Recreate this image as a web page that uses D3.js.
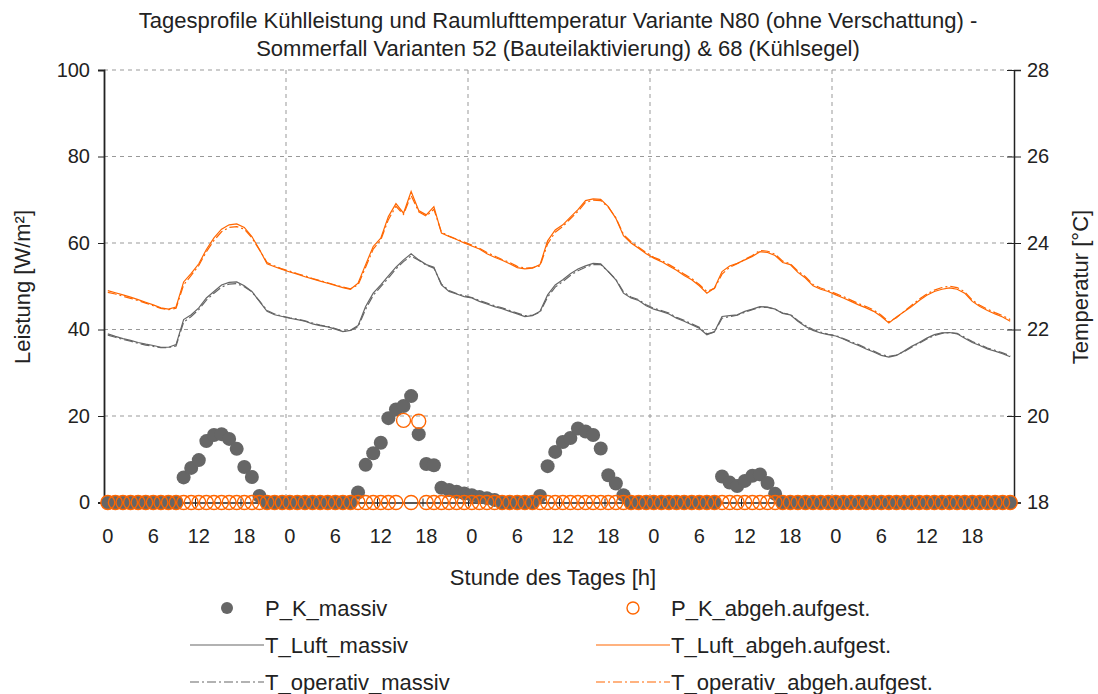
<!DOCTYPE html>
<html>
<head>
<meta charset="utf-8">
<script src="https://cdn.jsdelivr.net/npm/d3@7"></script>
<style>
  body { margin: 0; background: #fff; }
  svg { font-family: "Liberation Sans", Arial, sans-serif; }
  .axis path, .axis line { stroke: #222; }
  .axis text { font-size: 20px; fill: #222; }
</style>
</head>
<body>
<div id="chart"></div>
<script>
// ---------- data (hourly values, 5 days) ----------
const tickHours = ["0", "6", "12", "18"];
const nHours = 120;

// P_K massiv [W/m²]
const pkMassiv = [
  0, 0, 0, 0, 0, 0, 0, 0, 0, 0, 5.8, 8.0, 9.8, 14.2, 15.6, 15.8, 14.7, 12.4, 8.2, 5.9, 1.5, 0, 0, 0,
  0, 0, 0, 0, 0, 0, 0, 0, 0, 2.3, 8.7, 11.4, 13.8, 19.5, 21.5, 22.3, 24.6, 15.8, 8.9, 8.6, 3.4, 2.9, 2.5, 2.1,
  1.7, 1.3, 1.0, 0.6, 0, 0, 0, 0, 0, 1.5, 8.4, 11.7, 14.0, 14.9, 17.1, 16.4, 15.6, 12.5, 6.3, 4.4, 1.7, 0, 0, 0,
  0, 0, 0, 0, 0, 0, 0, 0, 0, 6.0, 4.6, 3.8, 5.0, 6.2, 6.5, 4.5, 2.0, 0, 0, 0, 0, 0, 0, 0,
  0, 0, 0, 0, 0, 0, 0, 0, 0, 0, 0, 0, 0, 0, 0, 0, 0, 0, 0, 0, 0, 0, 0, 0
];
// P_K abgehaengt/aufgestellt [W/m²]
const pkAbgeh = [
  0, 0, 0, 0, 0, 0, 0, 0, 0, 0, 0, 0, 0, 0, 0, 0, 0, 0, 0, 0, 0, 0, 0, 0,
  0, 0, 0, 0, 0, 0, 0, 0, 0, 0, 0, 0, 0, 0, 0, 19.0, 0, 18.8, 0, 0, 0, 0, 0, 0,
  0, 0, 0, 0, 0, 0, 0, 0, 0, 0, 0, 0, 0, 0, 0, 0, 0, 0, 0, 0, 0, 0, 0, 0,
  0, 0, 0, 0, 0, 0, 0, 0, 0, 0, 0, 0, 0, 0, 0, 0, 0, 0, 0, 0, 0, 0, 0, 0,
  0, 0, 0, 0, 0, 0, 0, 0, 0, 0, 0, 0, 0, 0, 0, 0, 0, 0, 0, 0, 0, 0, 0, 0
];
// temperatures [°C]
const tLuftMassiv = [
  21.90, 21.84, 21.79, 21.75, 21.70, 21.66, 21.63, 21.59, 21.59, 21.65, 22.23, 22.34, 22.50, 22.73, 22.88, 23.03, 23.09, 23.10, 23.01, 22.88, 22.65, 22.42, 22.34, 22.30,
  22.26, 22.23, 22.19, 22.13, 22.09, 22.06, 22.01, 21.95, 21.98, 22.09, 22.53, 22.84, 23.03, 23.24, 23.44, 23.61, 23.75, 23.61, 23.50, 23.44, 23.03, 22.88, 22.82, 22.76,
  22.73, 22.65, 22.59, 22.53, 22.48, 22.42, 22.36, 22.30, 22.32, 22.42, 22.80, 23.03, 23.15, 23.29, 23.40, 23.47, 23.53, 23.52, 23.34, 23.15, 22.84, 22.73, 22.67, 22.55,
  22.47, 22.42, 22.36, 22.26, 22.19, 22.11, 22.03, 21.88, 21.95, 22.30, 22.32, 22.34, 22.42, 22.47, 22.53, 22.52, 22.47, 22.37, 22.34, 22.19, 22.07, 21.98, 21.92, 21.88,
  21.85, 21.78, 21.70, 21.63, 21.55, 21.48, 21.40, 21.36, 21.40, 21.50, 21.61, 21.70, 21.80, 21.88, 21.92, 21.93, 21.90, 21.80, 21.70, 21.63, 21.55, 21.50, 21.44, 21.37
];
const tLuftAbgeh = [
  22.90, 22.85, 22.80, 22.75, 22.69, 22.63, 22.57, 22.50, 22.47, 22.52, 23.10, 23.30, 23.52, 23.85, 24.12, 24.32, 24.42, 24.44, 24.36, 24.15, 23.85, 23.52, 23.45, 23.39,
  23.33, 23.28, 23.22, 23.17, 23.12, 23.07, 23.02, 22.97, 22.93, 23.07, 23.50, 23.92, 24.11, 24.61, 24.91, 24.69, 25.19, 24.75, 24.65, 24.84, 24.23, 24.15, 24.08, 24.00,
  23.93, 23.86, 23.75, 23.67, 23.60, 23.52, 23.43, 23.40, 23.42, 23.50, 24.05, 24.30, 24.42, 24.60, 24.77, 24.98, 25.02, 25.01, 24.84, 24.57, 24.17, 24.00, 23.88, 23.75,
  23.65, 23.57, 23.47, 23.37, 23.25, 23.15, 23.01, 22.84, 22.96, 23.34, 23.47, 23.53, 23.61, 23.69, 23.80, 23.78, 23.71, 23.55, 23.50, 23.32, 23.19, 23.01, 22.93, 22.88,
  22.80, 22.73, 22.65, 22.57, 22.50, 22.42, 22.30, 22.15, 22.29, 22.41, 22.53, 22.67, 22.79, 22.88, 22.93, 22.96, 22.93, 22.84, 22.65, 22.53, 22.44, 22.36, 22.29, 22.19
];
const tOpMassiv = [
  21.87, 21.82, 21.77, 21.73, 21.68, 21.64, 21.61, 21.58, 21.58, 21.62, 22.17, 22.30, 22.46, 22.68, 22.84, 22.98, 23.05, 23.06, 22.99, 22.87, 22.66, 22.44, 22.36, 22.31,
  22.27, 22.24, 22.20, 22.15, 22.10, 22.07, 22.02, 21.96, 21.98, 22.06, 22.47, 22.79, 22.99, 23.19, 23.40, 23.57, 23.70, 23.60, 23.49, 23.42, 23.05, 22.90, 22.83, 22.78,
  22.74, 22.67, 22.61, 22.55, 22.50, 22.44, 22.38, 22.32, 22.33, 22.40, 22.75, 22.98, 23.11, 23.25, 23.36, 23.44, 23.50, 23.50, 23.34, 23.16, 22.87, 22.75, 22.69, 22.57,
  22.49, 22.44, 22.38, 22.28, 22.21, 22.13, 22.05, 21.90, 21.94, 22.26, 22.30, 22.33, 22.40, 22.46, 22.51, 22.51, 22.47, 22.38, 22.35, 22.21, 22.09, 22.00, 21.94, 21.89,
  21.86, 21.79, 21.72, 21.65, 21.57, 21.50, 21.42, 21.38, 21.41, 21.49, 21.59, 21.68, 21.78, 21.86, 21.91, 21.93, 21.91, 21.82, 21.72, 21.65, 21.57, 21.52, 21.46, 21.39
];
const tOpAbgeh = [
  22.86, 22.82, 22.77, 22.72, 22.67, 22.61, 22.55, 22.49, 22.46, 22.49, 23.03, 23.25, 23.48, 23.80, 24.06, 24.26, 24.36, 24.38, 24.32, 24.12, 23.84, 23.55, 23.47, 23.40,
  23.35, 23.29, 23.24, 23.18, 23.13, 23.08, 23.03, 22.98, 22.94, 23.03, 23.44, 23.86, 24.07, 24.54, 24.85, 24.66, 25.10, 24.72, 24.62, 24.78, 24.25, 24.16, 24.09, 24.02,
  23.95, 23.88, 23.78, 23.70, 23.62, 23.55, 23.46, 23.42, 23.43, 23.47, 23.98, 24.25, 24.38, 24.56, 24.73, 24.94, 24.99, 24.98, 24.83, 24.58, 24.20, 24.03, 23.90, 23.78,
  23.67, 23.60, 23.50, 23.40, 23.28, 23.18, 23.04, 22.88, 22.95, 23.28, 23.44, 23.52, 23.62, 23.71, 23.83, 23.81, 23.74, 23.58, 23.52, 23.35, 23.22, 23.04, 22.96, 22.90,
  22.83, 22.76, 22.68, 22.60, 22.53, 22.45, 22.33, 22.18, 22.27, 22.42, 22.56, 22.70, 22.82, 22.91, 22.97, 23.00, 22.97, 22.87, 22.68, 22.56, 22.47, 22.39, 22.32, 22.23
];

const leistungTicks = [0, 20, 40, 60, 80, 100];
const tempTicks = [18, 20, 22, 24, 26, 28];

// ---------- layout ----------
const width = 1098, height = 694;
const plotL = 104, plotR = 1014, plotT = 70, plotB = 502.5;
const grey = "#666666", orange = "#ff6600";

const svg = d3.select("#chart").append("svg")
  .attr("width", width).attr("height", height);

const hours = d3.range(nHours);
const x = d3.scaleBand().domain(hours).range([plotL, plotR]).padding(0);
const xc = i => x(i) + x.bandwidth() / 2;
const xLin = d3.scaleLinear().domain([0, nHours]).range([plotL, plotR]);
const yL = d3.scaleLinear().domain([0, 100]).range([plotB, plotT]);
const yR = d3.scaleLinear().domain([18, 28]).range([plotB, plotT]);

// gridlines
const grid = svg.append("g").attr("stroke", "#999").attr("stroke-dasharray", "4,4").attr("stroke-width", 1);
grid.selectAll("line.h").data(leistungTicks.slice(1)).enter().append("line")
  .attr("x1", plotL).attr("x2", plotR)
  .attr("y1", d => yL(d)).attr("y2", d => yL(d));
grid.selectAll("line.v").data([24, 48, 72, 96]).enter().append("line")
  .attr("x1", d => xLin(d)).attr("x2", d => xLin(d))
  .attr("y1", plotT).attr("y2", plotB);

// axes
svg.append("g").attr("class", "axis")
  .attr("transform", `translate(${plotL},0)`)
  .call(d3.axisLeft(yL).tickValues(leistungTicks).tickSize(6).tickPadding(8))
  .call(g => g.select(".domain").attr("stroke", "#333").attr("stroke-width", 1.8));

svg.append("g").attr("class", "axis")
  .attr("transform", `translate(${plotR},0)`)
  .call(d3.axisRight(yR).tickValues(tempTicks).tickSize(7).tickPadding(6))
  .call(g => g.select(".domain").attr("stroke-width", 1.5));
svg.append("g").attr("class", "axis")
  .attr("transform", `translate(${plotR},0)`)
  .call(d3.axisLeft(yR).tickValues(tempTicks).tickSize(7).tickFormat(""))
  .call(g => g.select(".domain").remove());

// x axis: tick marks crossing the axis, labels centered in the hour band
svg.append("g").attr("class", "axis")
  .attr("transform", `translate(0,${plotB})`)
  .call(d3.axisBottom(xLin).tickValues(d3.range(0, nHours + 1, 6)).tickSize(4).tickFormat(""))
  .call(g => g.select(".domain").attr("stroke-width", 1.5));
svg.append("g").attr("class", "axis")
  .attr("transform", `translate(0,${plotB})`)
  .call(d3.axisTop(xLin).tickValues(d3.range(0, nHours + 1, 6)).tickSize(4).tickFormat(""))
  .call(g => g.select(".domain").remove());
svg.append("g").attr("class", "axis")
  .attr("transform", `translate(0,${plotB})`)
  .call(d3.axisBottom(x).tickValues(d3.range(0, nHours, 6)).tickSize(0).tickPadding(26)
    .tickFormat(i => tickHours[(i % 24) / 6]))
  .call(g => g.select(".domain").remove());

// temperature lines
const line = d3.line().x((d, i) => xc(i)).y(d => yR(d));
const series = [
  { data: tLuftMassiv, color: grey, dash: null },
  { data: tOpMassiv, color: grey, dash: "9,3,2,3" },
  { data: tLuftAbgeh, color: orange, dash: null },
  { data: tOpAbgeh, color: orange, dash: "9,3,2,3" }
];
svg.append("g").selectAll("path").data(series).enter().append("path")
  .attr("d", d => line(d.data))
  .attr("fill", "none")
  .attr("stroke", d => d.color)
  .attr("stroke-width", 1.2)
  .attr("stroke-dasharray", d => d.dash);

// cooling power markers
svg.append("g").selectAll("circle").data(pkMassiv).enter().append("circle")
  .attr("cx", (d, i) => xc(i)).attr("cy", d => yL(d)).attr("r", 7)
  .attr("fill", grey);
svg.append("g").selectAll("circle").data(pkAbgeh).enter().append("circle")
  .attr("cx", (d, i) => xc(i)).attr("cy", d => yL(d)).attr("r", 7)
  .attr("fill", "none").attr("stroke", orange).attr("stroke-width", 1.4);

// titles
const title = svg.append("g").attr("font-size", 22).attr("fill", "#222").attr("text-anchor", "middle");
title.append("text").attr("x", 558).attr("y", 28)
  .text("Tagesprofile Kühlleistung und Raumlufttemperatur Variante N80 (ohne Verschattung) -");
title.append("text").attr("x", 558).attr("y", 56)
  .text("Sommerfall Varianten 52 (Bauteilaktivierung) & 68 (Kühlsegel)");

svg.append("text").attr("font-size", 22).attr("fill", "#222").attr("text-anchor", "middle")
  .attr("x", 553).attr("y", 585).text("Stunde des Tages [h]");
svg.append("text").attr("font-size", 22).attr("fill", "#222").attr("text-anchor", "middle")
  .attr("transform", "translate(30,287) rotate(-90)").text("Leistung [W/m²]");
svg.append("text").attr("font-size", 22).attr("fill", "#222").attr("text-anchor", "middle")
  .attr("transform", "translate(1088,287) rotate(-90)").text("Temperatur [°C]");

// legend
const legend = [
  { label: "P_K_massiv", col: 0, row: 0, type: "dot", color: grey },
  { label: "P_K_abgeh.aufgest.", col: 1, row: 0, type: "ring", color: orange },
  { label: "T_Luft_massiv", col: 0, row: 1, type: "line", color: grey },
  { label: "T_Luft_abgeh.aufgest.", col: 1, row: 1, type: "line", color: orange },
  { label: "T_operativ_massiv", col: 0, row: 2, type: "dash", color: grey },
  { label: "T_operativ_abgeh.aufgest.", col: 1, row: 2, type: "dash", color: orange }
];
const colX = [190, 596], rowY = [608, 645, 682];
const lg = svg.append("g").selectAll("g").data(legend).enter().append("g")
  .attr("transform", d => `translate(${colX[d.col]},${rowY[d.row]})`);
lg.filter(d => d.type === "line" || d.type === "dash").append("line")
  .attr("x1", 0).attr("x2", 74).attr("y1", 0).attr("y2", 0)
  .attr("stroke", d => d.color).attr("stroke-width", 1.2)
  .attr("stroke-dasharray", d => d.type === "dash" ? "9,3,2,3" : null);
lg.filter(d => d.type === "dot").append("circle")
  .attr("cx", 37).attr("cy", 0).attr("r", 6).attr("fill", d => d.color);
lg.filter(d => d.type === "ring").append("circle")
  .attr("cx", 37).attr("cy", 0).attr("r", 6).attr("fill", "none")
  .attr("stroke", d => d.color).attr("stroke-width", 1.4);
lg.append("text").attr("x", 75).attr("y", 8).attr("font-size", 22).attr("fill", "#222")
  .text(d => d.label);
</script>
</body>
</html>
